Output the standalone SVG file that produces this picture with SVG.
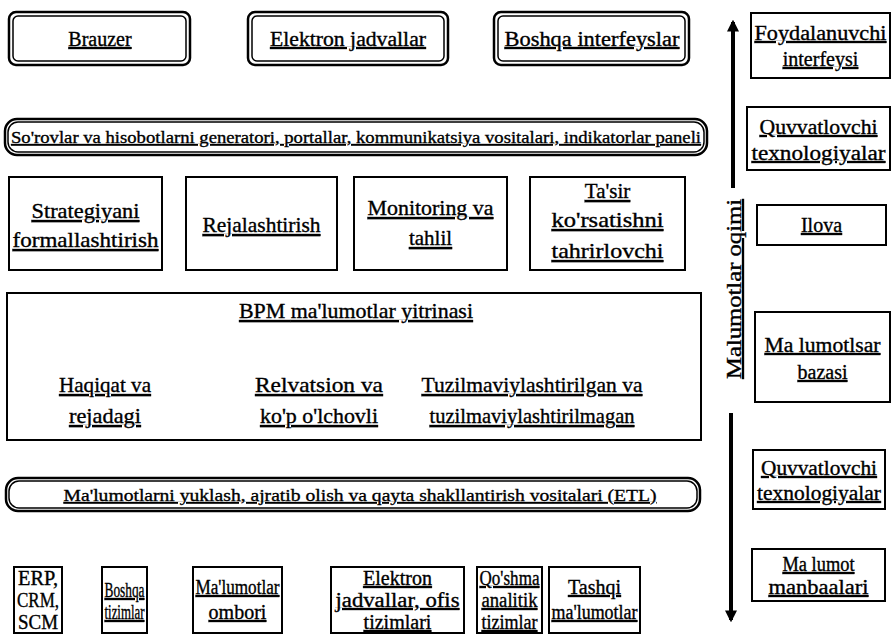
<svg xmlns="http://www.w3.org/2000/svg" width="893" height="635" viewBox="0 0 893 635" font-family="Liberation Serif, Times New Roman, serif">
<defs>
<style>
.bg{fill:#fff}
.box{fill:#fff;stroke:#000;stroke-width:2}
.dbl-o{fill:#fff;stroke:#000;stroke-width:2.5}
.dbl-i{fill:none;stroke:#000;stroke-width:1.5}
text{font-size:20px;fill:#000;text-anchor:middle;text-decoration:underline;stroke:#000;stroke-width:0.35}
.tn{text-decoration:none}
.con{stroke:#000;stroke-width:4;fill:none}
</style>
<marker id="ah" viewBox="0 0 10 10" refX="8" refY="5" markerWidth="3" markerHeight="3" orient="auto" markerUnits="strokeWidth">
<path d="M0,0 L10,5 L0,10 z" fill="#000"/>
</marker>
</defs>
<rect class="bg" x="0" y="0" width="893" height="635"/>

<g id="brauzer">
<rect class="dbl-o" x="9" y="12" width="181" height="53" rx="7"/>
<rect class="dbl-i" x="13" y="16" width="173" height="45" rx="5"/>
<text x="100" y="46">Brauzer</text>
</g>
<g id="elektron-jadvallar">
<rect class="dbl-o" x="248" y="12" width="200" height="53" rx="7"/>
<rect class="dbl-i" x="252" y="16" width="192" height="45" rx="5"/>
<text x="348" y="46" textLength="156" lengthAdjust="spacingAndGlyphs">Elektron jadvallar</text>
</g>
<g id="boshqa-interfeyslar">
<rect class="dbl-o" x="494" y="12" width="195" height="53" rx="7"/>
<rect class="dbl-i" x="498" y="16" width="187" height="45" rx="5"/>
<text x="592" y="46" textLength="175" lengthAdjust="spacingAndGlyphs">Boshqa interfeyslar</text>
</g>

<g id="banner-top">
<rect class="dbl-o" x="5" y="119" width="702" height="36" rx="12"/>
<rect class="dbl-i" x="8" y="122" width="696" height="30" rx="10"/>
<text x="356" y="143" style="font-size:17px" textLength="690" lengthAdjust="spacingAndGlyphs">So'rovlar va hisobotlarni generatori, portallar, kommunikatsiya vositalari, indikatorlar paneli</text>
</g>

<g id="strategiyani">
<rect class="box" x="9" y="177" width="153" height="93"/>
<text x="85.5" y="218" style="font-size:21px" textLength="108" lengthAdjust="spacingAndGlyphs">Strategiyani</text>
<text x="85.5" y="247" style="font-size:21px" textLength="146" lengthAdjust="spacingAndGlyphs">formallashtirish</text>
</g>
<g id="rejalashtirish">
<rect class="box" x="186" y="177" width="151" height="93"/>
<text x="261.5" y="232" style="font-size:21px" textLength="118" lengthAdjust="spacingAndGlyphs">Rejalashtirish</text>
</g>
<g id="monitoring">
<rect class="box" x="354" y="177" width="153" height="93"/>
<text x="430.5" y="215" style="font-size:21px" textLength="126" lengthAdjust="spacingAndGlyphs">Monitoring va</text>
<text x="430.5" y="245" style="font-size:21px">tahlil</text>
</g>
<g id="tasir">
<rect class="box" x="530" y="177" width="155" height="93"/>
<text x="607.5" y="198" style="font-size:21px">Ta'sir</text>
<text x="607.5" y="227" style="font-size:21px" textLength="112" lengthAdjust="spacingAndGlyphs">ko'rsatishni</text>
<text x="607.5" y="258" style="font-size:21px" textLength="112" lengthAdjust="spacingAndGlyphs">tahrirlovchi</text>
</g>

<g id="bpm">
<rect class="box" x="7" y="293" width="694" height="147"/>
<text x="356" y="318" style="font-size:21px" textLength="234" lengthAdjust="spacingAndGlyphs"><tspan text-decoration="none">BPM </tspan>ma'lumotlar yitrinasi</text>
<text x="105" y="392" style="font-size:21px" textLength="92" lengthAdjust="spacingAndGlyphs">Haqiqat va</text>
<text x="105" y="423" style="font-size:21px" textLength="72" lengthAdjust="spacingAndGlyphs">rejadagi</text>
<text x="319" y="392" style="font-size:21px" textLength="128" lengthAdjust="spacingAndGlyphs">Relvatsion va</text>
<text x="319" y="423" style="font-size:21px" textLength="118" lengthAdjust="spacingAndGlyphs">ko'p o'lchovli</text>
<text x="532" y="392" style="font-size:21px" textLength="221" lengthAdjust="spacingAndGlyphs">Tuzilmaviylashtirilgan  va</text>
<text x="532" y="423" style="font-size:21px" textLength="205" lengthAdjust="spacingAndGlyphs">tuzilmaviylashtirilmagan</text>
</g>

<g id="etl">
<rect class="dbl-o" x="6" y="478" width="694" height="33" rx="12"/>
<rect class="dbl-i" x="9" y="481" width="688" height="27" rx="10"/>
<text x="360" y="501" style="font-size:17px" textLength="593" lengthAdjust="spacingAndGlyphs">Ma'lumotlarni yuklash, ajratib olish va qayta shakllantirish vositalari (ETL)</text>
</g>

<g id="erp">
<rect class="box" x="14" y="567" width="48" height="66"/>
<text class="tn" x="38" y="585" textLength="40" lengthAdjust="spacingAndGlyphs">ERP,</text>
<text class="tn" x="38" y="607" textLength="42" lengthAdjust="spacingAndGlyphs">CRM,</text>
<text class="tn" x="38" y="629" textLength="40" lengthAdjust="spacingAndGlyphs">SCM</text>
</g>
<g id="boshqa-tizimlar">
<rect class="box" x="102" y="567" width="45" height="66"/>
<text x="124.5" y="597" textLength="40" lengthAdjust="spacingAndGlyphs">Boshqa</text>
<text x="124.5" y="619" textLength="40" lengthAdjust="spacingAndGlyphs">tizimlar</text>
</g>
<g id="malumotlar-ombori">
<rect class="box" x="193" y="567" width="89" height="66"/>
<text x="237.5" y="594" textLength="84" lengthAdjust="spacingAndGlyphs">Ma'lumotlar</text>
<text x="237.5" y="619">ombori</text>
</g>
<g id="elektron-ofis">
<rect class="box" x="331" y="567" width="133" height="66"/>
<text x="397.5" y="585">Elektron</text>
<text x="397.5" y="607" textLength="124" lengthAdjust="spacingAndGlyphs">jadvallar, ofis</text>
<text x="397.5" y="629">tizimlari</text>
</g>
<g id="qoshma">
<rect class="box" x="477" y="567" width="65" height="66"/>
<text x="509.5" y="585" textLength="60" lengthAdjust="spacingAndGlyphs">Qo'shma</text>
<text x="509.5" y="607" textLength="56" lengthAdjust="spacingAndGlyphs">analitik</text>
<text x="509.5" y="629" textLength="56" lengthAdjust="spacingAndGlyphs">tizimlar</text>
</g>
<g id="tashqi">
<rect class="box" x="549" y="567" width="91" height="66"/>
<text x="594.5" y="594">Tashqi</text>
<text x="594.5" y="619" textLength="86" lengthAdjust="spacingAndGlyphs">ma'lumotlar</text>
</g>

<g id="foydalanuvchi">
<rect class="box" x="751" y="13" width="139" height="65"/>
<text x="820.5" y="40" textLength="132" lengthAdjust="spacingAndGlyphs">Foydalanuvchi</text>
<text x="820.5" y="66">interfeysi</text>
</g>
<g id="quvvatlovchi-1">
<rect class="box" x="747" y="107" width="143" height="63"/>
<text x="818.5" y="134" textLength="118" lengthAdjust="spacingAndGlyphs">Quvvatlovchi</text>
<text x="818.5" y="160" textLength="134" lengthAdjust="spacingAndGlyphs">texnologiyalar</text>
</g>
<g id="ilova">
<rect class="box" x="757" y="205" width="129" height="40"/>
<text x="821.5" y="232">Ilova</text>
</g>
<g id="malumotlsar-bazasi">
<rect class="box" x="755" y="312" width="135" height="90"/>
<text x="822.5" y="352" textLength="116" lengthAdjust="spacingAndGlyphs">Ma lumotlsar</text>
<text x="822.5" y="379">bazasi</text>
</g>
<g id="quvvatlovchi-2">
<rect class="box" x="753" y="450" width="132" height="59"/>
<text x="819" y="475" textLength="116" lengthAdjust="spacingAndGlyphs">Quvvatlovchi</text>
<text x="819" y="500" textLength="124" lengthAdjust="spacingAndGlyphs">texnologiyalar</text>
</g>
<g id="malumot-manbaalari">
<rect class="box" x="752" y="549" width="133" height="52"/>
<text x="818.5" y="571" textLength="72" lengthAdjust="spacingAndGlyphs">Ma lumot</text>
<text x="818.5" y="594" textLength="100" lengthAdjust="spacingAndGlyphs">manbaalari</text>
</g>

<g id="connectors">
<line class="con" x1="733" y1="188" x2="733" y2="22" marker-end="url(#ah)"/>
<line class="con" x1="731" y1="413" x2="731" y2="620" marker-end="url(#ah)"/>
</g>
<g id="flow-label">
<text x="0" y="0" transform="translate(741,289) rotate(-90)" textLength="180" lengthAdjust="spacingAndGlyphs">Malumotlar oqimi</text>
</g>
</svg>
